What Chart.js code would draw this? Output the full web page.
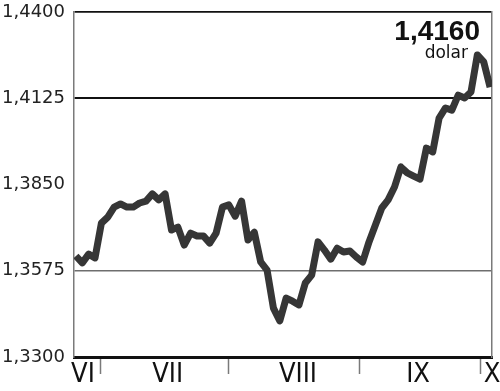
<!DOCTYPE html>
<html>
<head>
<meta charset="utf-8">
<script src="https://cdn.jsdelivr.net/npm/chart.js@4/dist/chart.umd.min.js"></script>
<style>
  html, body { margin: 0; padding: 0; background: #fff; }
</style>
</head>
<body>
<canvas id="chart" width="500" height="391"></canvas>
<script>
// kurs dolara – notowania sesyjne VI–X
const rates = [
  1.3622, 1.3600, 1.3628, 1.3616, 1.3727, 1.3746, 1.3778, 1.3788, 1.3778, 1.3778,
  1.3791, 1.3797, 1.3820, 1.3801, 1.3820, 1.3705, 1.3714, 1.3657, 1.3695, 1.3686,
  1.3686, 1.3663, 1.3695, 1.3778, 1.3785, 1.3749, 1.3797, 1.3673, 1.3698, 1.3603,
  1.3577, 1.3456, 1.3415, 1.3488, 1.3478, 1.3466, 1.3536, 1.3561, 1.3667, 1.3641,
  1.3612, 1.3647, 1.3635, 1.3638, 1.3619, 1.3603, 1.3667, 1.3721, 1.3775, 1.3801,
  1.3842, 1.3906, 1.3887, 1.3877, 1.3867, 1.3966, 1.3954, 1.4062, 1.4094, 1.4087,
  1.4135, 1.4126, 1.4145, 1.4263, 1.4241, 1.4160
];
const yTicks = [1.33, 1.3575, 1.385, 1.4125, 1.44];
const monthLabels = ["VI", "VII", "VIII", "IX", "X"];
const monthCenters = [1.1, 14.4, 34.85, 53.7, 65.3];  // in session numbers
const monthStarts = [3.86, 23.92, 44.58, 63.42];
const lastValue = "1,4160";
const unitLabel = "dolar";

// -------------------------------
// styles
// -------------------------------
const yGridColors = ["rgba(0,0,0,0)", "#6e6e6e", "rgba(0,0,0,0)", "#111", "#111"];
const yGridWidths = [1, 1.5, 1, 2, 1.8];

const valueNote = {
  id: "valueNote",
  afterDraw(chart) {
    const { ctx, chartArea } = chart;
    ctx.save();
    ctx.fillStyle = "#111";
    ctx.textAlign = "right";
    ctx.textBaseline = "alphabetic";
    ctx.font = "bold 28px 'Liberation Sans', sans-serif";
    ctx.fillText(lastValue, chartArea.right - 12, 40);
    ctx.font = "17px 'DejaVu Sans', sans-serif";
    ctx.fillText(unitLabel, chartArea.right - 24, 58);
    ctx.restore();
  }
};

new Chart(document.getElementById("chart").getContext("2d"), {
  type: "line",
  data: {
    datasets: [{
      data: rates.map((r, i) => ({ x: i, y: r })),
      borderColor: "#363636",
      borderWidth: 7,
      borderJoinStyle: "round",
      pointRadius: 0,
      tension: 0
    }]
  },
  options: {
    responsive: false,
    animation: false,
    layout: { padding: { top: 12, left: 0, right: 0, bottom: 0 } },
    plugins: {
      legend: { display: false },
      tooltip: { enabled: false }
    },
    scales: {
      x: {
        type: "linear",
        min: -0.3,
        max: 65.3,
        afterBuildTicks: s => {
          s.ticks = [...monthCenters, ...monthStarts].sort((a, b) => a - b).map(v => ({ value: v }));
        },
        afterFit: s => { s.height = 34; s.paddingLeft = 0; s.paddingRight = 0; },
        grid: {
          drawOnChartArea: false,
          drawTicks: true,
          tickLength: 17,
          tickWidth: 1.5,
          tickColor: c => monthStarts.includes(c.tick.value) ? "#7a7a7a" : "rgba(0,0,0,0)"
        },
        border: { color: "#111", width: 3 },
        ticks: {
          autoSkip: false,
          maxRotation: 0,
          padding: -12.5,
          color: "#111",
          font: { family: "'Liberation Sans Narrow', 'DejaVu Sans Condensed', sans-serif", size: 27, lineHeight: 1 },
          callback: v => {
            const i = monthCenters.indexOf(v);
            return i >= 0 ? monthLabels[i] : "";
          }
        }
      },
      y: {
        min: 1.33,
        max: 1.44,
        afterBuildTicks: s => { s.ticks = yTicks.map(v => ({ value: v })); },
        afterFit: s => { s.width = 74; s.paddingTop = 0; s.paddingBottom = 0; },
        grid: {
          drawTicks: false,
          color: c => yGridColors[c.index],
          lineWidth: c => yGridWidths[c.index]
        },
        border: { color: "#7a7a7a", width: 1.5 },
        ticks: {
          padding: 9,
          color: "#222",
          font: { family: "'DejaVu Sans', sans-serif", size: 18 },
          callback: v => v.toFixed(4).replace(".", ",")
        }
      },
      yRight: {
        position: "right",
        min: 1.33,
        max: 1.44,
        afterFit: s => { s.width = 8; s.paddingTop = 0; s.paddingBottom = 0; },
        grid: { display: false },
        ticks: { display: false },
        border: { color: "#7a7a7a", width: 1.5 }
      }
    }
  },
  plugins: [valueNote]
});
</script>
</body>
</html>
